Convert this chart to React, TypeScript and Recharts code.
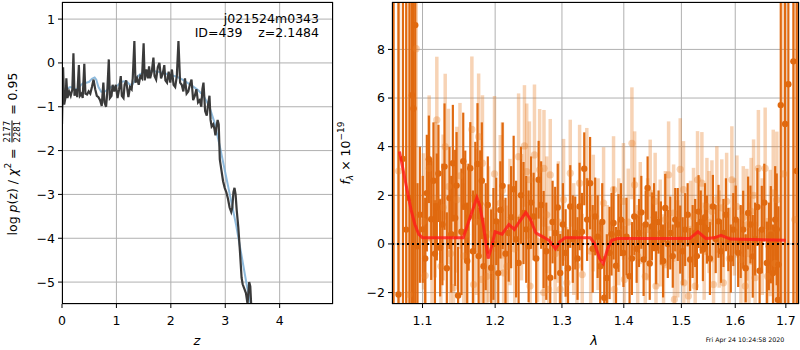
import React from "react";
import {
  CartesianGrid,
  ComposedChart,
  ErrorBar,
  Line,
  ReferenceLine,
  Scatter,
  XAxis,
  YAxis,
} from "recharts";

const FONT = "'DejaVu Sans', Verdana, sans-serif";
const DARK = "#e0690f";
const LIGHT = "#e8802a";
const GRID = "#b0b0b0";

// ---- left panel: log p(z) ----
const pzBlack: [number, number][] = [
  [0, -1.4], [0.02, -0.1], [0.04, -0.95], [0.07, -0.75], [0.08, -0.35], [0.1, -0.8],
  [0.13, -0.65], [0.16, -0.75], [0.19, -0.6], [0.21, 0.22], [0.23, -0.75], [0.26, -0.6],
  [0.28, -0.78], [0.31, -0.05], [0.33, -0.75], [0.36, -0.7], [0.38, -0.8], [0.41, -0.02],
  [0.43, -0.7], [0.46, -0.72], [0.49, -0.65], [0.52, -0.7], [0.55, -0.55], [0.58, -0.38],
  [0.61, -0.6], [0.64, -0.75], [0.67, -0.78], [0.7, -0.85], [0.73, -0.98], [0.76, -0.45],
  [0.78, -0.9], [0.81, -1.0], [0.83, -0.7], [0.86, 0.08], [0.88, -0.8], [0.91, -0.75],
  [0.93, -0.5], [0.96, -0.65], [0.99, -0.5], [1.02, -0.8], [1.05, -0.6], [1.08, -0.3],
  [1.1, -0.75], [1.13, -0.8], [1.15, -0.5], [1.18, -0.4], [1.2, -0.6], [1.22, -0.78],
  [1.25, -0.55], [1.28, -0.6], [1.3, -0.35], [1.33, 0.5], [1.35, -0.45], [1.38, -0.35],
  [1.41, -0.5], [1.44, -0.3], [1.47, -0.35], [1.5, 0.45], [1.52, -0.4], [1.55, -0.15],
  [1.58, -0.35], [1.6, -0.08], [1.62, -0.35], [1.65, -0.2], [1.68, 0.12], [1.7, -0.3],
  [1.73, -0.38], [1.76, -0.1], [1.79, 0.0], [1.82, -0.35], [1.85, -0.25], [1.88, -0.05],
  [1.9, -0.4], [1.93, -0.45], [1.96, -0.2], [1.99, -0.45], [2.02, -0.15], [2.05, -0.5],
  [2.08, -0.55], [2.11, -0.3], [2.14, 0.5], [2.17, -0.45], [2.2, -0.5], [2.23, -0.65],
  [2.26, -0.35], [2.29, -0.7], [2.32, -0.65], [2.35, -0.5], [2.38, -0.38], [2.41, -0.85],
  [2.44, -0.75], [2.47, -0.6], [2.5, -0.9], [2.53, -0.85], [2.56, -1.0], [2.58, -0.6],
  [2.6, -0.45], [2.63, -1.1], [2.66, -1.2], [2.69, -0.9], [2.71, -0.75], [2.73, -1.3],
  [2.75, -1.45], [2.78, -1.4], [2.8, -1.5], [2.82, -1.65], [2.84, -1.45], [2.86, -1.3],
  [2.88, -1.4], [2.9, -2.2], [2.93, -2.45], [2.96, -2.7], [2.99, -2.85], [3.02, -2.95],
  [3.05, -3.1], [3.08, -3.3], [3.11, -3.4], [3.13, -3.3], [3.15, -2.95], [3.17, -2.85],
  [3.19, -3.0], [3.21, -3.35], [3.24, -3.75], [3.27, -4.3], [3.3, -4.9], [3.32, -5.05],
  [3.35, -5.15], [3.38, -5.25], [3.41, -5.5], [3.44, -5.0], [3.46, -5.1], [3.48, -5.6],
];

const pzBlue: [number, number][] = [
  [0, -1.0], [0.03, -0.8], [0.06, -0.65], [0.1, -0.58], [0.15, -0.55], [0.2, -0.57],
  [0.25, -0.6], [0.3, -0.58], [0.35, -0.5], [0.4, -0.45], [0.45, -0.45], [0.5, -0.43],
  [0.55, -0.36], [0.6, -0.33], [0.63, -0.38], [0.67, -0.55], [0.72, -0.66], [0.78, -0.66],
  [0.85, -0.6], [0.9, -0.55], [0.95, -0.55], [1.0, -0.53], [1.05, -0.48], [1.1, -0.43],
  [1.15, -0.42], [1.2, -0.44], [1.25, -0.5], [1.3, -0.48], [1.35, -0.38], [1.4, -0.3],
  [1.45, -0.25], [1.5, -0.22], [1.6, -0.19], [1.7, -0.19], [1.8, -0.21], [1.9, -0.24],
  [2.0, -0.28], [2.1, -0.31], [2.2, -0.37], [2.3, -0.45], [2.4, -0.53], [2.5, -0.62],
  [2.6, -0.75], [2.7, -0.97], [2.8, -1.35], [2.9, -1.9], [3.0, -2.5], [3.1, -3.1],
  [3.2, -3.7], [3.3, -4.4], [3.4, -5.1], [3.5, -5.7],
];

const zTicks = [0, 1, 2, 3, 4];
const logpTicks = [-5, -4, -3, -2, -1, 0, 1];

// ---- right panel: spectrum [lambda, flux, err] ----
const darkPts: [number, number, number][] = [
  [1.0625, 11, 20], [1.0688, -2.08, 20], [1.0745, 3.5, 20], [1.0787, 0.59, 20],
  [1.083, 1.89, 20], [1.0861, 6.12, 20], [1.0882, 5.57, 20], [1.0905, 9, 20],
  [1.0934, -0.1, 2.6], [1.1057, 2.09, 2.4], [1.1084, 3.48, 1.8], [1.1115, 1.02, 2.5],
  [1.119, 1.52, 2.2], [1.1235, -0.16, 2.0], [1.1294, 3.18, 2.6], [1.1361, 1.89, 2.1],
  [1.1407, 3.32, 2.4], [1.1439, 1.07, 2.8], [1.1479, -2.12, 2.0], [1.1578, 1.54, 2.3],
  [1.1648, 3.11, 1.9], [1.1749, 3.29, 2.5], [1.1787, 1.65, 2.2], [1.1834, -0.92, 2.0],
  [1.1943, -0.98, 2.4], [1.2016, 0.93, 1.8], [1.2108, 2.39, 2.6], [1.2196, 0.45, 2.0],
  [1.2269, 2.25, 2.2], [1.2342, -0.78, 1.9], [1.2415, 1.27, 2.1], [1.2491, -0.1, 2.3],
  [1.2566, 1.13, 1.8], [1.2642, 2.64, 1.6], [1.2718, 0.18, 2.0], [1.2819, -1.39, 1.7],
  [1.2895, 0.45, 1.9], [1.2973, -1.19, 1.6], [1.3057, -0.37, 1.8], [1.313, 1.54, 1.7],
  [1.3209, 0.45, 1.5], [1.3278, 1.54, 1.8], [1.3352, 3.09, 1.5], [1.3446, 2.5, 1.9],
  [1.3528, 1.13, 1.6], [1.361, -0.92, 1.8], [1.3676, -2.21, 1.7], [1.3763, -0.37, 1.9],
  [1.3829, 0.86, 1.5], [1.3911, 0.45, 1.6], [1.3994, -0.37, 1.4], [1.4097, -1.33, 1.5],
  [1.4177, 1.13, 1.6], [1.4257, 0.45, 1.4], [1.4336, -0.64, 1.5], [1.4405, 2.3, 1.3],
  [1.4479, 0.72, 1.4], [1.4553, -0.16, 1.5], [1.4636, 0.45, 1.3], [1.4713, 1.48, 1.4],
  [1.4802, 0.45, 1.5], [1.489, 1.0, 1.3], [1.4979, 0.18, 1.4], [1.5068, 0.59, 1.5],
  [1.5158, -0.64, 1.3], [1.525, 0.45, 1.4], [1.5312, 1.33, 1.5], [1.5392, -0.23, 1.3],
  [1.5466, 0.59, 1.4], [1.5577, 1.54, 1.3], [1.5682, 0.93, 1.5], [1.5775, 0.45, 1.4],
  [1.5868, 0.18, 1.3], [1.5962, 0.59, 1.5], [1.6056, -0.37, 1.4], [1.6153, 0.59, 1.6],
  [1.6249, 1.27, 1.5], [1.6339, -0.51, 1.7], [1.643, 1.52, 1.6], [1.6517, 0.59, 1.8],
  [1.6617, -0.78, 1.7], [1.6697, 0.38, 2.0], [1.6784, 1.0, 2.2], [1.684, -2.3, 3.0],
  [1.6851, -0.85, 2.4], [1.6897, 5.71, 20], [1.6985, 4.93, 20], [1.7051, 6.57, 20],
  [1.7154, 7.51, 20], [1.7225, 3, 20],
  [1.0965, 1.2, 2.8], [1.1003, 0.6, 2.2], [1.1035, -0.6, 2.5], [1.1145, 2.6, 2.4],
  [1.1165, -0.4, 2.2], [1.1212, 2.9, 2.0], [1.1265, 0.8, 2.5], [1.1325, -1.0, 2.3],
  [1.1385, 0.4, 2.4], [1.1458, 2.4, 2.2], [1.1525, 0.5, 2.6], [1.155, 3.4, 2.0],
  [1.1605, -0.7, 2.4], [1.1625, 1.1, 2.2], [1.1685, -0.3, 2.5], [1.1718, 1.9, 2.3],
  [1.1765, -0.5, 2.0], [1.181, 2.6, 2.4], [1.1865, 0.3, 2.2], [1.1895, 1.6, 2.0],
  [1.1975, 0.0, 2.3], [1.2045, -1.2, 2.2], [1.2075, 1.4, 2.0], [1.215, -0.4, 2.3],
  [1.2232, 1.1, 2.1], [1.2305, 0.2, 2.4], [1.2378, 2.0, 2.0], [1.2455, 0.6, 2.2],
  [1.2528, 1.7, 1.9], [1.2605, -0.6, 2.1], [1.268, 1.6, 1.8], [1.2758, -0.3, 2.0],
  [1.2855, 0.9, 1.7], [1.2935, 1.5, 1.8], [1.3015, 0.8, 1.7], [1.3095, -1.0, 1.6],
  [1.317, 0.2, 1.8], [1.3245, -0.6, 1.7], [1.3315, 0.5, 1.6], [1.3398, 1.0, 1.7],
  [1.3488, -0.2, 1.8], [1.3568, 0.3, 1.7], [1.3643, 0.9, 1.6], [1.3718, -1.4, 1.8],
  [1.3796, 0.4, 1.7], [1.387, -0.9, 1.6], [1.3952, 1.0, 1.5], [1.4045, 0.3, 1.6],
  [1.4137, -0.6, 1.5], [1.4217, -0.2, 1.4], [1.4297, 1.3, 1.5], [1.4372, 0.8, 1.4],
  [1.4442, -0.8, 1.5], [1.4516, 1.1, 1.4], [1.4595, 0.9, 1.3], [1.4675, -0.7, 1.5],
  [1.4758, 0.0, 1.4], [1.4846, -0.5, 1.3], [1.4935, 0.8, 1.5], [1.5023, -0.3, 1.4],
  [1.5113, 1.2, 1.3], [1.5204, 0.1, 1.5], [1.5281, -0.5, 1.4], [1.5352, 0.9, 1.3],
  [1.543, 1.1, 1.4], [1.5522, -0.6, 1.5], [1.563, 0.2, 1.4], [1.5729, -0.3, 1.3],
  [1.5822, 1.2, 1.5], [1.5915, -0.6, 1.4], [1.6009, 1.0, 1.4], [1.6105, 0.1, 1.5],
  [1.6201, -1.0, 1.4], [1.6294, 0.8, 1.6], [1.6385, 0.2, 1.5], [1.6474, -1.1, 1.7],
  [1.6567, 1.7, 1.6], [1.6657, -0.1, 1.8], [1.674, -1.2, 2.0], [1.6815, 0.6, 2.3],
];

const lightPts: [number, number, number][] = [
  [1.069, 3.0, 20], [1.0826, -2.08, 20], [1.0917, 8.03, 20], [1.1013, 0.93, 2.8],
  [1.1088, 3.11, 3.0], [1.1168, 1.82, 3.2], [1.119, 5.1, 2.6], [1.1245, -0.92, 2.8],
  [1.1303, 4.0, 3.0], [1.1348, 2.36, 3.2], [1.1416, -1.8, 2.8], [1.1462, 1.82, 3.0],
  [1.1556, -0.5, 3.0], [1.167, 4.71, 3.0], [1.1694, -1.67, 2.9], [1.1765, 4.41, 2.6],
  [1.181, -1.46, 3.0], [1.1819, 3.32, 2.8], [1.1881, -1.33, 3.0], [1.1991, 2.88, 3.2],
  [1.2001, -1.33, 2.6], [1.2074, 1.68, 2.8], [1.2123, -1.19, 3.0], [1.2172, -0.92, 2.5],
  [1.2342, 3.59, 2.6], [1.2429, 4.03, 2.5], [1.2463, 2.98, 2.8], [1.2503, 2.64, 2.4],
  [1.2513, -1.73, 2.6], [1.2579, 3.66, 2.9], [1.2657, 3.05, 2.5], [1.2718, -2.0, 2.4],
  [1.2723, 3.11, 2.4], [1.2794, -1.87, 2.6], [1.2819, 2.84, 2.3], [1.2973, -1.87, 2.4],
  [1.3025, 1.82, 2.5], [1.3077, -1.6, 2.3], [1.313, 2.91, 2.2], [1.3278, 2.5, 2.4],
  [1.332, -1.26, 2.5], [1.3393, 2.57, 2.2], [1.3498, 1.27, 2.4], [1.3665, 1.68, 2.3],
  [1.3829, 2.23, 2.2], [1.3845, -1.87, 2.3], [1.3994, 1.75, 2.4], [1.401, -1.46, 2.2],
  [1.4137, 4.14, 2.3], [1.4183, 2.43, 2.2], [1.4279, 1.27, 2.1], [1.4365, -1.33, 2.2],
  [1.445, 2.09, 2.2], [1.4536, 1.75, 2.0], [1.455, -1.73, 2.1], [1.4624, 0.45, 2.2],
  [1.4683, -0.78, 2.0], [1.4772, 2.84, 2.2], [1.4861, 1.27, 2.0], [1.4875, -2.28, 2.1],
  [1.4979, 3.07, 2.1], [1.5038, 2.23, 2.0], [1.5045, -1.6, 2.2], [1.5127, -2.14, 2.1],
  [1.5219, 1.13, 2.0], [1.525, -1.73, 2.1], [1.5293, 2.64, 2.0], [1.5373, 2.5, 2.1],
  [1.5466, 1.54, 2.0], [1.5559, 1.34, 2.1], [1.5589, -1.67, 2.0], [1.5651, 1.82, 2.2],
  [1.5744, 1.48, 2.0], [1.5775, -1.6, 2.1], [1.5836, 1.75, 2.0], [1.5935, 2.64, 2.2],
  [1.6032, 1.54, 2.1], [1.6109, -0.64, 2.2], [1.6193, -1.73, 2.1], [1.6224, 0.79, 2.3],
  [1.6307, 1.34, 2.2], [1.6385, -1.39, 2.3], [1.645, 3.11, 2.4], [1.6584, 3.11, 2.5],
  [1.6631, -1.33, 2.4], [1.6684, 0.45, 2.6], [1.6817, 1.82, 2.8], [1.6955, 2.88, 20],
  [1.7185, 1.0, 20],
  [1.1035, -1.3, 3.0], [1.1125, 0.2, 3.2], [1.1275, 1.5, 3.0], [1.1375, -0.4, 2.8],
  [1.1505, 2.8, 3.0], [1.1595, 0.4, 2.9], [1.1735, 0.9, 3.0], [1.1905, 0.4, 2.8],
  [1.1955, -1.1, 2.6], [1.2105, 2.2, 2.8], [1.2215, 0.9, 2.6], [1.2285, -0.2, 2.5],
  [1.2385, 1.1, 2.6], [1.2625, 0.1, 2.5], [1.2765, 1.2, 2.4], [1.2895, -0.4, 2.4],
  [1.2945, 0.9, 2.5], [1.3185, 0.2, 2.3], [1.3235, -0.9, 2.4], [1.3455, -0.3, 2.3],
  [1.3575, 0.4, 2.3], [1.3725, -0.6, 2.2], [1.3915, 0.5, 2.2], [1.4075, 0.9, 2.2],
  [1.4235, -0.5, 2.1], [1.4405, 0.6, 2.1], [1.4715, 1.0, 2.0], [1.4935, -0.2, 2.0],
  [1.5165, 0.6, 2.0], [1.5415, -0.3, 2.0], [1.5505, 0.9, 2.1], [1.5695, 0.2, 2.0],
  [1.5885, -0.6, 2.1], [1.5985, 0.7, 2.0], [1.6155, 1.1, 2.1], [1.6265, -0.4, 2.1],
  [1.6355, 2.0, 2.3], [1.6525, 0.3, 2.4], [1.6745, 2.1, 2.6], [1.6785, -0.8, 2.7],
];

const modelPts: [number, number][] = [
  [1.07, 3.8], [1.075, 3.0], [1.08, 2.2], [1.085, 1.4], [1.09, 0.8], [1.095, 0.4],
  [1.1, 0.25], [1.155, 0.25], [1.16, 0.7], [1.167, 1.3], [1.174, 1.9], [1.178, 1.6],
  [1.183, 0.8], [1.19, -0.6], [1.195, -0.1], [1.2, 0.5], [1.21, 0.4], [1.22, 0.8],
  [1.228, 0.6], [1.235, 0.9], [1.245, 1.3], [1.252, 1.0], [1.26, 0.45], [1.27, 0.3],
  [1.28, 0.15], [1.29, -0.2], [1.297, 0.1], [1.305, 0.25], [1.345, 0.25], [1.352, 0.0],
  [1.36, -0.6], [1.366, -0.8], [1.373, -0.2], [1.38, 0.15], [1.39, 0.22], [1.515, 0.22],
  [1.53, 0.5], [1.545, 0.22], [1.56, 0.25], [1.573, 0.35], [1.59, 0.2], [1.7, 0.15],
];

const lamTicks = [1.1, 1.2, 1.3, 1.4, 1.5, 1.6, 1.7];
const fluxTicks = [-2, 0, 2, 4, 6, 8];

const minus = (v: number) => (v < 0 ? "\u2212" + Math.abs(v) : String(v));
const tickStyle = { fontSize: 12.5, fill: "#000", fontFamily: FONT };

const toXY = (a: [number, number][]) => a.map(([x, y]) => ({ x, y }));
const toXYE = (a: [number, number, number][]) => a.map(([x, y, e]) => ({ x, y, e }));

const darkDot = (p: any) => <circle cx={p.cx} cy={p.cy} r={3.2} fill={DARK} />;
const lightDot = (p: any) => (
  <circle cx={p.cx} cy={p.cy} r={3.6} fill={LIGHT} fillOpacity={0.35} />
);

const abs = (left: number, top: number): React.CSSProperties => ({
  position: "absolute",
  left,
  top,
  fontFamily: FONT,
  whiteSpace: "pre",
  color: "#000",
});

const LAM_DOMAIN: [number, number] = [1.0605, 1.727];
const FLUX_DOMAIN: [number, number] = [-2.47, 9.95];

// series-only chart whose plot area lines up with the axes chart
const RightLayer = ({ children }: { children: React.ReactNode }) => (
  <div style={{ position: "absolute", left: 392, top: 2, width: 407, height: 302, overflow: "hidden" }}>
    <div style={{ position: "absolute", left: -52, top: -2 }}>
      <ComposedChart width={460} height={350} margin={{ top: 2, right: 1, left: 52, bottom: 46 }}>
        <XAxis type="number" dataKey="x" scale="log" domain={LAM_DOMAIN} allowDataOverflow hide />
        <YAxis type="number" dataKey="y" domain={FLUX_DOMAIN} allowDataOverflow hide />
        {children}
      </ComposedChart>
    </div>
  </div>
);

export default function App() {
  return (
    <div style={{ position: "absolute", left: 0, top: 0, width: 800, height: 350, background: "#fff", fontFamily: FONT }}>
      <div style={{ position: "absolute", left: 0, top: 0 }}>
        <ComposedChart width={340} height={350} margin={{ top: 2, right: 7, left: 0, bottom: 0 }}>
          <CartesianGrid stroke={GRID} strokeWidth={1} />
          <XAxis
            type="number"
            dataKey="x"
            domain={[0, 4.98]}
            ticks={zTicks}
            allowDataOverflow
            axisLine={false}
            tickLine={{ stroke: "#000" }}
            tickSize={4}
            tickMargin={8}
            height={46}
            tick={tickStyle}
          />
          <YAxis
            type="number"
            dataKey="y"
            domain={[-5.5, 1.39]}
            ticks={logpTicks}
            allowDataOverflow
            axisLine={false}
            tickLine={{ stroke: "#000" }}
            tickSize={4}
            tickMargin={3}
            width={62}
            tick={tickStyle}
            tickFormatter={minus}
          />
          <Line data={toXY(pzBlue)} dataKey="y" stroke="#7aaed6" strokeWidth={2} strokeOpacity={0.85} dot={false} isAnimationActive={false} />
          <Line data={toXY(pzBlack)} dataKey="y" stroke="#3a3a3a" strokeWidth={2.2} dot={false} isAnimationActive={false} />
        </ComposedChart>
      </div>

      {/* right panel: axes and grid */}
      <div style={{ position: "absolute", left: 340, top: 0 }}>
        <ComposedChart width={460} height={350} margin={{ top: 2, right: 1, left: 0, bottom: 0 }} data={[]}>
          <CartesianGrid stroke={GRID} strokeWidth={1} />
          <XAxis
            type="number"
            dataKey="x"
            scale="log"
            domain={LAM_DOMAIN}
            ticks={lamTicks}
            allowDataOverflow
            axisLine={false}
            tickLine={{ stroke: "#000" }}
            tickSize={4}
            tickMargin={8}
            height={46}
            tick={tickStyle}
            tickFormatter={(v: number) => v.toFixed(1)}
          />
          <YAxis
            type="number"
            dataKey="y"
            domain={FLUX_DOMAIN}
            ticks={fluxTicks}
            allowDataOverflow
            axisLine={false}
            tickLine={{ stroke: "#000" }}
            tickSize={4}
            tickMargin={3}
            width={52}
            tick={tickStyle}
            tickFormatter={minus}
          />
        </ComposedChart>
      </div>

      {/* right panel: spectrum points, clipped to the plot area */}
      <RightLayer>
        <Scatter data={toXYE(lightPts)} dataKey="y" shape={lightDot} isAnimationActive={false}>
          <ErrorBar dataKey="e" direction="y" width={0} stroke={LIGHT} strokeOpacity={0.35} strokeWidth={3.5} isAnimationActive={false} />
        </Scatter>
        <Scatter data={toXYE(darkPts)} dataKey="y" shape={darkDot} isAnimationActive={false}>
          <ErrorBar dataKey="e" direction="y" width={0} stroke={DARK} strokeWidth={2.2} isAnimationActive={false} />
        </Scatter>
      </RightLayer>

      {/* right panel: model and zero line on top */}
      <RightLayer>
        <Line data={toXY(modelPts)} dataKey="y" stroke="#ff1a1a" strokeOpacity={0.8} strokeWidth={3} dot={false} isAnimationActive={false} />
        <ReferenceLine y={0} stroke="#000" strokeWidth={2} strokeDasharray="2 3" />
      </RightLayer>

      {/* axes frames */}
      <div style={{ position: "absolute", left: 62, top: 2, width: 271, height: 302, border: "1px solid #000", boxSizing: "border-box", pointerEvents: "none" }} />
      <div style={{ position: "absolute", left: 392, top: 2, width: 407, height: 302, border: "1px solid #000", boxSizing: "border-box", pointerEvents: "none" }} />

      {/* annotation */}
      <div style={{ ...abs(0, 12), width: 319, textAlign: "right", fontSize: 12.5, lineHeight: "14px" }}>
        {"j021524m0343\nID=439    z=2.1484"}
      </div>

      {/* axis labels */}
      <div style={{ ...abs(197, 340), fontSize: 13, fontStyle: "italic", transform: "translate(-50%,-50%)" }}>z</div>
      <div style={{ ...abs(594, 340), fontSize: 13, fontStyle: "italic", transform: "translate(-50%,-50%)" }}>λ</div>

      <div
        style={{
          ...abs(12, 154),
          fontSize: 12.5,
          transform: "translate(-50%,-50%) rotate(-90deg)",
          display: "flex",
          alignItems: "center",
        }}
      >
        <span>log </span>
        <span style={{ fontStyle: "italic" }}>p</span>
        <span>(z) / </span>
        <span style={{ fontStyle: "italic" }}>χ</span>
        <span style={{ fontSize: 9, position: "relative", top: -5 }}>2</span>
        <span> = </span>
        <span style={{ display: "inline-flex", flexDirection: "column", alignItems: "center", fontSize: 8.5, lineHeight: "9px", margin: "0 2px" }}>
          <span>2177</span>
          <span style={{ borderTop: "1px solid #000" }}>2281</span>
        </span>
        <span> = 0.95</span>
      </div>

      <div
        style={{
          ...abs(345, 153),
          fontSize: 12.5,
          transform: "translate(-50%,-50%) rotate(-90deg)",
        }}
      >
        <span style={{ fontStyle: "italic" }}>f</span>
        <span style={{ fontSize: 9, fontStyle: "italic", position: "relative", top: 3 }}>λ</span>
        <span> × 10</span>
        <span style={{ fontSize: 9, position: "relative", top: -6 }}>−19</span>
      </div>

      <div style={{ ...abs(745, 339), fontSize: 6.3, transform: "translate(-50%,-50%)" }}>Fri Apr 24 10:24:58 2020</div>
    </div>
  );
}
